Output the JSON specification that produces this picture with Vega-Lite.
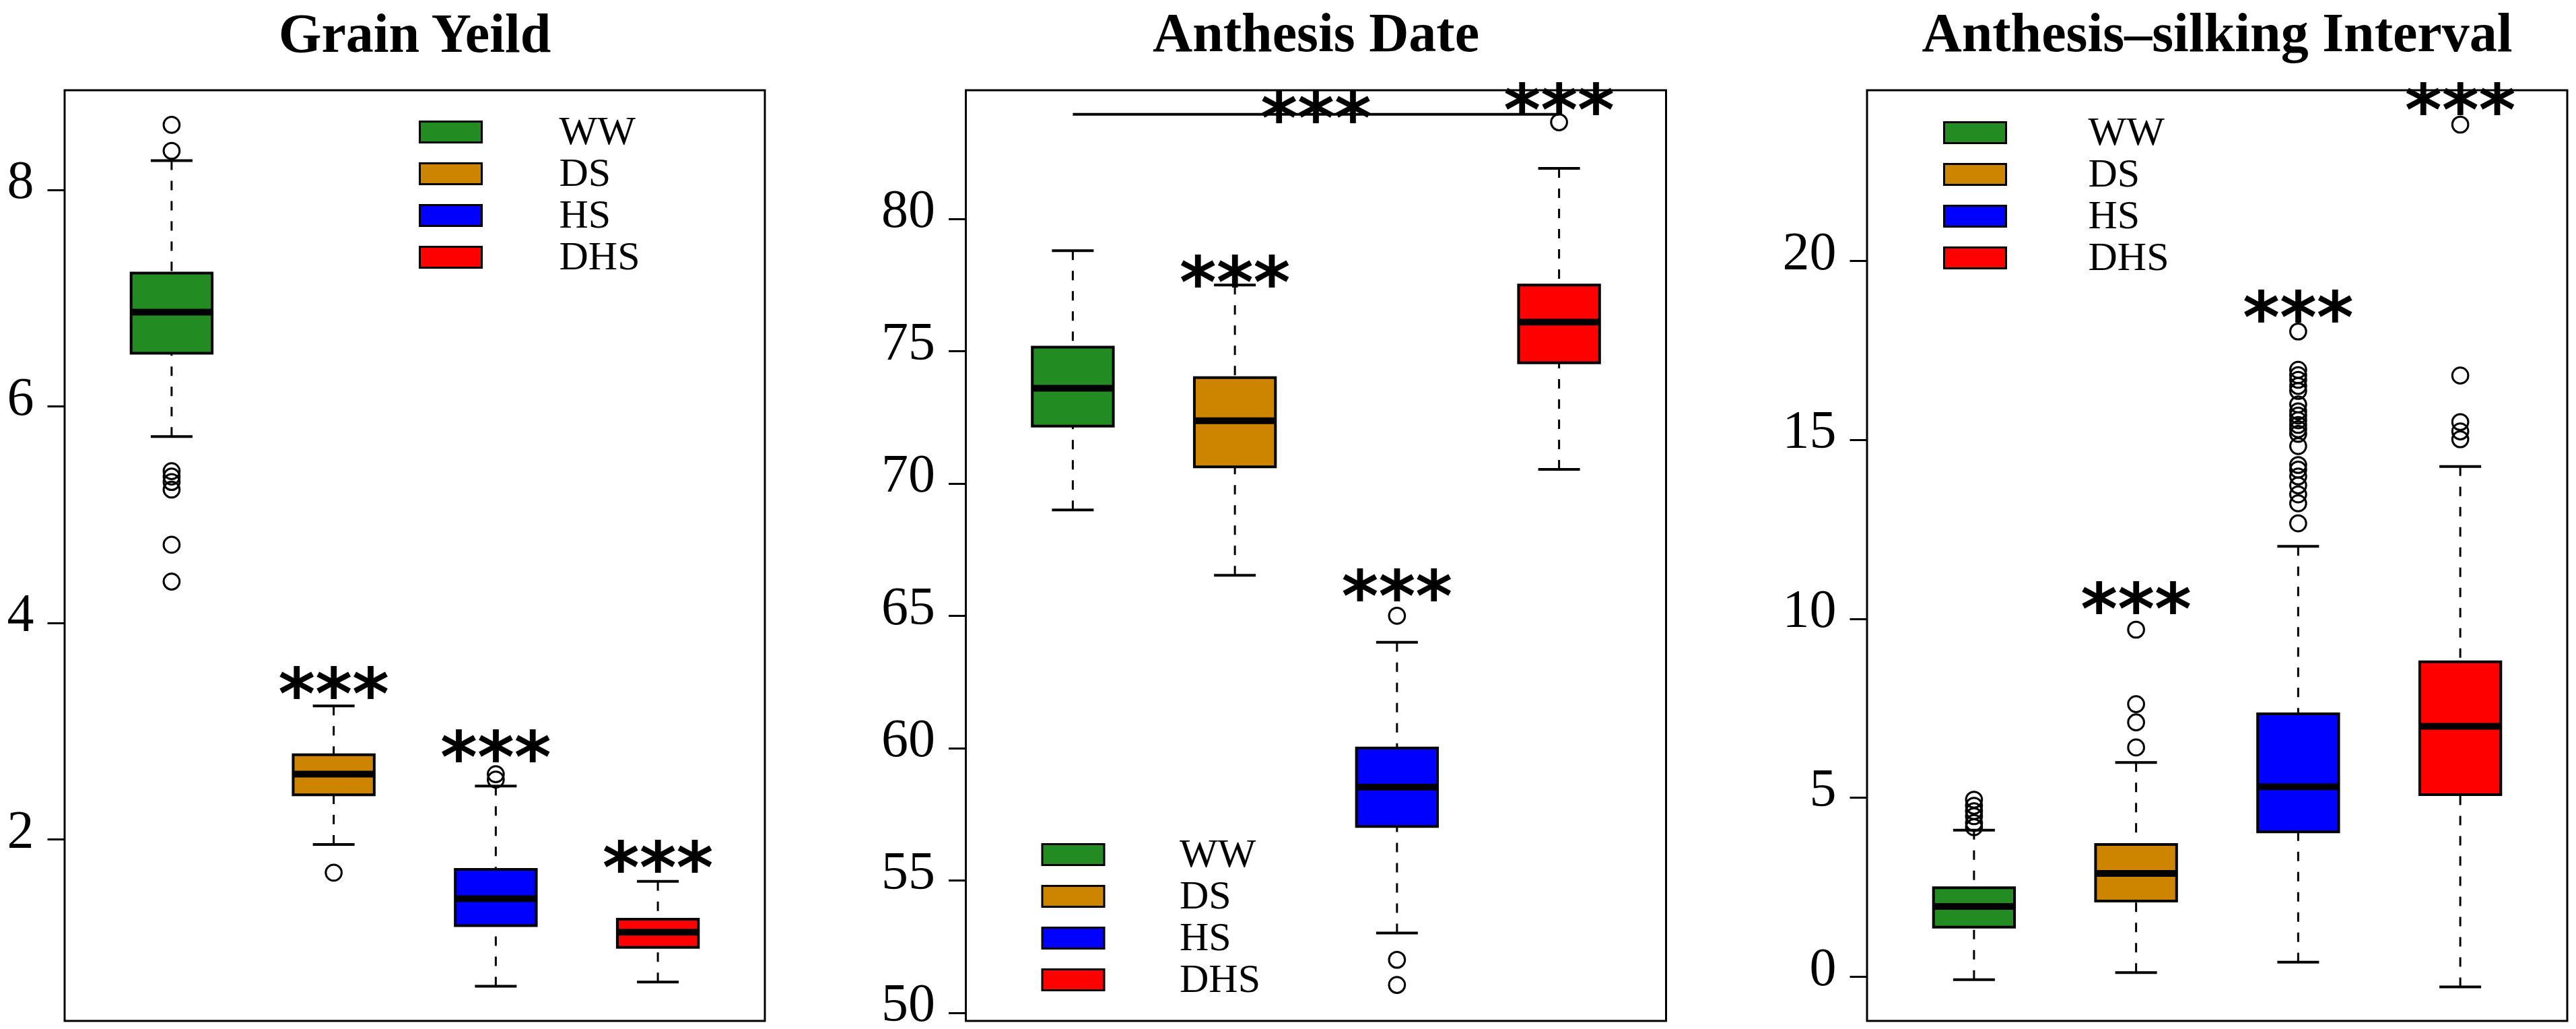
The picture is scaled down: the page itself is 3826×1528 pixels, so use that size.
{
  "$schema": "https://vega.github.io/schema/vega-lite/v6.json",
  "background": "white",
  "autosize": {"type": "pad"},
  "padding": {"left": 8, "top": 8, "right": 12, "bottom": 0},
  "datasets": {
    "boxes": [
      {"panel": "GY", "grp": "WW", "lo": 5.72, "q1": 6.49, "med": 6.87, "q3": 7.23, "hi": 8.27},
      {"panel": "GY", "grp": "DS", "lo": 1.95, "q1": 2.41, "med": 2.6, "q3": 2.78, "hi": 3.23},
      {"panel": "GY", "grp": "HS", "lo": 0.64, "q1": 1.2, "med": 1.45, "q3": 1.72, "hi": 2.49},
      {"panel": "GY", "grp": "DHS", "lo": 0.68, "q1": 1.0, "med": 1.14, "q3": 1.26, "hi": 1.61},
      {"panel": "AD", "grp": "WW", "lo": 69.0, "q1": 72.17, "med": 73.6, "q3": 75.15, "hi": 78.8},
      {"panel": "AD", "grp": "DS", "lo": 66.53, "q1": 70.63, "med": 72.37, "q3": 74.0, "hi": 77.5},
      {"panel": "AD", "grp": "HS", "lo": 53.01, "q1": 57.04, "med": 58.53, "q3": 60.0, "hi": 64.0},
      {"panel": "AD", "grp": "DHS", "lo": 70.53, "q1": 74.56, "med": 76.1, "q3": 77.5, "hi": 81.91},
      {"panel": "ASI", "grp": "WW", "lo": -0.09, "q1": 1.38, "med": 1.96, "q3": 2.48, "hi": 4.09},
      {"panel": "ASI", "grp": "DS", "lo": 0.11, "q1": 2.11, "med": 2.88, "q3": 3.69, "hi": 5.98},
      {"panel": "ASI", "grp": "HS", "lo": 0.4, "q1": 4.04, "med": 5.3, "q3": 7.34, "hi": 12.02},
      {"panel": "ASI", "grp": "DHS", "lo": -0.29, "q1": 5.08, "med": 6.99, "q3": 8.79, "hi": 14.25}
    ],
    "outliers": [
      {"panel": "GY", "grp": "WW", "v": 8.6}, {"panel": "GY", "grp": "WW", "v": 8.36},
      {"panel": "GY", "grp": "WW", "v": 5.4}, {"panel": "GY", "grp": "WW", "v": 5.35},
      {"panel": "GY", "grp": "WW", "v": 5.3}, {"panel": "GY", "grp": "WW", "v": 5.23},
      {"panel": "GY", "grp": "WW", "v": 4.72}, {"panel": "GY", "grp": "WW", "v": 4.38},
      {"panel": "GY", "grp": "DS", "v": 1.69},
      {"panel": "GY", "grp": "HS", "v": 2.6}, {"panel": "GY", "grp": "HS", "v": 2.55},
      {"panel": "AD", "grp": "HS", "v": 65.0}, {"panel": "AD", "grp": "HS", "v": 52.0},
      {"panel": "AD", "grp": "HS", "v": 51.05}, {"panel": "AD", "grp": "DHS", "v": 83.65},
      {"panel": "ASI", "grp": "WW", "v": 4.94}, {"panel": "ASI", "grp": "WW", "v": 4.77},
      {"panel": "ASI", "grp": "WW", "v": 4.62}, {"panel": "ASI", "grp": "WW", "v": 4.48},
      {"panel": "ASI", "grp": "WW", "v": 4.29}, {"panel": "ASI", "grp": "WW", "v": 4.17},
      {"panel": "ASI", "grp": "DS", "v": 9.69}, {"panel": "ASI", "grp": "DS", "v": 7.61},
      {"panel": "ASI", "grp": "DS", "v": 7.1}, {"panel": "ASI", "grp": "DS", "v": 6.4},
      {"panel": "ASI", "grp": "HS", "v": 18.02}, {"panel": "ASI", "grp": "HS", "v": 16.95},
      {"panel": "ASI", "grp": "HS", "v": 16.8}, {"panel": "ASI", "grp": "HS", "v": 16.67},
      {"panel": "ASI", "grp": "HS", "v": 16.5}, {"panel": "ASI", "grp": "HS", "v": 16.36},
      {"panel": "ASI", "grp": "HS", "v": 15.98}, {"panel": "ASI", "grp": "HS", "v": 15.79},
      {"panel": "ASI", "grp": "HS", "v": 15.67}, {"panel": "ASI", "grp": "HS", "v": 15.54},
      {"panel": "ASI", "grp": "HS", "v": 15.41}, {"panel": "ASI", "grp": "HS", "v": 15.29},
      {"panel": "ASI", "grp": "HS", "v": 15.16}, {"panel": "ASI", "grp": "HS", "v": 14.82},
      {"panel": "ASI", "grp": "HS", "v": 14.29}, {"panel": "ASI", "grp": "HS", "v": 14.16},
      {"panel": "ASI", "grp": "HS", "v": 13.97}, {"panel": "ASI", "grp": "HS", "v": 13.72},
      {"panel": "ASI", "grp": "HS", "v": 13.47}, {"panel": "ASI", "grp": "HS", "v": 13.22},
      {"panel": "ASI", "grp": "HS", "v": 12.66},
      {"panel": "ASI", "grp": "DHS", "v": 23.8}, {"panel": "ASI", "grp": "DHS", "v": 16.79},
      {"panel": "ASI", "grp": "DHS", "v": 15.49}, {"panel": "ASI", "grp": "DHS", "v": 15.23},
      {"panel": "ASI", "grp": "DHS", "v": 15.01}
    ],
    "stars": [
      {"panel": "GY", "grp": "DS", "v": 3.49},
      {"panel": "GY", "grp": "HS", "v": 2.9},
      {"panel": "GY", "grp": "DHS", "v": 1.88},
      {"panel": "AD", "grp": "DS", "v": 78.2},
      {"panel": "AD", "grp": "HS", "v": 66.33},
      {"panel": "AD", "grp": "DHS", "v": 84.72},
      {"panel": "ASI", "grp": "DS", "v": 10.7},
      {"panel": "ASI", "grp": "HS", "v": 18.85},
      {"panel": "ASI", "grp": "DHS", "v": 24.64}
    ],
    "bracket": [
      {"panel": "AD", "from": "WW", "to": "DHS", "mid": "DS", "line": 83.95, "star": 84.4}
    ]
  },
  "hconcat": [
    {
      "width": 1040, "height": 1382,
      "title": {"text": "Grain Yeild", "offset": 40},
      "layer": [
        {"data": {"name": "boxes"}, "transform": [{"filter": "datum.panel === 'GY'"}],
         "mark": {"type": "rule", "stroke": "black", "strokeWidth": 3, "strokeDash": [14, 16]},
         "encoding": {
           "x": {"field": "grp", "type": "nominal", "scale": {"type": "band", "domain": ["WW", "DS", "HS", "DHS"], "paddingInner": 0, "paddingOuter": 0.16}, "axis": null},
           "y": {"field": "hi", "type": "quantitative", "title": null, "scale": {"domain": [0.32, 8.92], "nice": false, "zero": false}, "axis": {"values": [2, 4, 6, 8], "format": "d"}},
           "y2": {"field": "q3"}}},
        {"data": {"name": "boxes"}, "transform": [{"filter": "datum.panel === 'GY'"}],
         "mark": {"type": "rule", "stroke": "black", "strokeWidth": 3, "strokeDash": [14, 16]},
         "encoding": {"x": {"field": "grp", "type": "nominal"}, "y": {"field": "lo", "type": "quantitative", "title": null}, "y2": {"field": "q1"}}},
        {"data": {"name": "boxes"}, "transform": [{"filter": "datum.panel === 'GY'"}],
         "mark": {"type": "tick", "color": "black", "size": 62, "thickness": 4, "opacity": 1},
         "encoding": {"x": {"field": "grp", "type": "nominal"}, "y": {"field": "hi", "type": "quantitative", "title": null}}},
        {"data": {"name": "boxes"}, "transform": [{"filter": "datum.panel === 'GY'"}],
         "mark": {"type": "tick", "color": "black", "size": 62, "thickness": 4, "opacity": 1},
         "encoding": {"x": {"field": "grp", "type": "nominal"}, "y": {"field": "lo", "type": "quantitative", "title": null}}},
        {"data": {"name": "boxes"}, "transform": [{"filter": "datum.panel === 'GY'"}],
         "mark": {"type": "bar", "width": {"band": 0.5}, "stroke": "black", "strokeWidth": 4, "opacity": 1},
         "encoding": {
           "x": {"field": "grp", "type": "nominal"},
           "y": {"field": "q1", "type": "quantitative", "title": null}, "y2": {"field": "q3"},
           "color": {"field": "grp", "type": "nominal",
             "scale": {"domain": ["WW", "DS", "HS", "DHS"], "range": ["#228B22", "#CD8500", "#0000FF", "#FF0000"]},
             "legend": {"orient": "none", "direction": "vertical", "legendX": 543.5, "legendY": 32, "title": null,
               "symbolType": "M-2.968,-1L2.968,-1L2.968,1L-2.968,1Z", "symbolSize": 961,
               "symbolStrokeColor": "black", "symbolStrokeWidth": 3, "symbolOpacity": 1,
               "labelFont": "Liberation Serif", "labelFontSize": 60, "labelColor": "black", "labelOffset": 131,
               "rowPadding": 2, "padding": 0}}}},
        {"data": {"name": "boxes"}, "transform": [{"filter": "datum.panel === 'GY'"}],
         "mark": {"type": "tick", "color": "black", "size": 117, "thickness": 10, "opacity": 1},
         "encoding": {"x": {"field": "grp", "type": "nominal"}, "y": {"field": "med", "type": "quantitative", "title": null}}},
        {"data": {"name": "outliers"}, "transform": [{"filter": "datum.panel === 'GY'"}],
         "mark": {"type": "point", "shape": "circle", "filled": false, "stroke": "black", "strokeWidth": 3, "size": 560, "opacity": 1},
         "encoding": {"x": {"field": "grp", "type": "nominal"}, "y": {"field": "v", "type": "quantitative", "title": null}}},
        {"data": {"name": "stars"}, "transform": [{"filter": "datum.panel === 'GY'"}],
         "mark": {"type": "text", "font": "DejaVu Sans", "fontWeight": "bold", "fontSize": 105, "baseline": "alphabetic", "align": "center", "dy": 60, "color": "black"},
         "encoding": {"x": {"field": "grp", "type": "nominal"}, "y": {"field": "v", "type": "quantitative", "title": null}, "text": {"value": "***"}}}
      ]
    },
    {
      "width": 1040, "height": 1382,
      "title": {"text": "Anthesis Date", "offset": 22.5},
      "layer": [
        {"data": {"name": "boxes"}, "transform": [{"filter": "datum.panel === 'AD'"}],
         "mark": {"type": "rule", "stroke": "black", "strokeWidth": 3, "strokeDash": [14, 16]},
         "encoding": {
           "x": {"field": "grp", "type": "nominal", "scale": {"type": "band", "domain": ["WW", "DS", "HS", "DHS"], "paddingInner": 0, "paddingOuter": 0.16}, "axis": null},
           "y": {"field": "hi", "type": "quantitative", "title": null, "scale": {"domain": [49.69, 84.86], "nice": false, "zero": false}, "axis": {"values": [50, 55, 60, 65, 70, 75, 80], "format": "d"}},
           "y2": {"field": "q3"}}},
        {"data": {"name": "boxes"}, "transform": [{"filter": "datum.panel === 'AD'"}],
         "mark": {"type": "rule", "stroke": "black", "strokeWidth": 3, "strokeDash": [14, 16]},
         "encoding": {"x": {"field": "grp", "type": "nominal"}, "y": {"field": "lo", "type": "quantitative", "title": null}, "y2": {"field": "q1"}}},
        {"data": {"name": "boxes"}, "transform": [{"filter": "datum.panel === 'AD'"}],
         "mark": {"type": "tick", "color": "black", "size": 62, "thickness": 4, "opacity": 1},
         "encoding": {"x": {"field": "grp", "type": "nominal"}, "y": {"field": "hi", "type": "quantitative", "title": null}}},
        {"data": {"name": "boxes"}, "transform": [{"filter": "datum.panel === 'AD'"}],
         "mark": {"type": "tick", "color": "black", "size": 62, "thickness": 4, "opacity": 1},
         "encoding": {"x": {"field": "grp", "type": "nominal"}, "y": {"field": "lo", "type": "quantitative", "title": null}}},
        {"data": {"name": "boxes"}, "transform": [{"filter": "datum.panel === 'AD'"}],
         "mark": {"type": "bar", "width": {"band": 0.5}, "stroke": "black", "strokeWidth": 4, "opacity": 1},
         "encoding": {
           "x": {"field": "grp", "type": "nominal"},
           "y": {"field": "q1", "type": "quantitative", "title": null}, "y2": {"field": "q3"},
           "color": {"field": "grp", "type": "nominal",
             "scale": {"domain": ["WW", "DS", "HS", "DHS"], "range": ["#228B22", "#CD8500", "#0000FF", "#FF0000"]},
             "legend": {"orient": "none", "direction": "vertical", "legendX": 129.5, "legendY": 1105, "title": null,
               "symbolType": "M-2.968,-1L2.968,-1L2.968,1L-2.968,1Z", "symbolSize": 961,
               "symbolStrokeColor": "black", "symbolStrokeWidth": 3, "symbolOpacity": 1,
               "labelFont": "Liberation Serif", "labelFontSize": 60, "labelColor": "black", "labelOffset": 128,
               "rowPadding": 2, "padding": 0}}}},
        {"data": {"name": "boxes"}, "transform": [{"filter": "datum.panel === 'AD'"}],
         "mark": {"type": "tick", "color": "black", "size": 117, "thickness": 10, "opacity": 1},
         "encoding": {"x": {"field": "grp", "type": "nominal"}, "y": {"field": "med", "type": "quantitative", "title": null}}},
        {"data": {"name": "outliers"}, "transform": [{"filter": "datum.panel === 'AD'"}],
         "mark": {"type": "point", "shape": "circle", "filled": false, "stroke": "black", "strokeWidth": 3, "size": 560, "opacity": 1},
         "encoding": {"x": {"field": "grp", "type": "nominal"}, "y": {"field": "v", "type": "quantitative", "title": null}}},
        {"data": {"name": "bracket"},
         "mark": {"type": "rule", "stroke": "black", "strokeWidth": 4},
         "encoding": {"x": {"field": "from", "type": "nominal"}, "x2": {"field": "to"}, "y": {"field": "line", "type": "quantitative", "title": null}}},
        {"data": {"name": "bracket"},
         "mark": {"type": "text", "font": "DejaVu Sans", "fontWeight": "bold", "fontSize": 105, "baseline": "alphabetic", "align": "center", "dy": 60, "color": "black"},
         "encoding": {"x": {"field": "mid", "type": "nominal", "bandPosition": 1}, "y": {"field": "star", "type": "quantitative", "title": null}, "text": {"value": "***"}}},
        {"data": {"name": "stars"}, "transform": [{"filter": "datum.panel === 'AD'"}],
         "mark": {"type": "text", "font": "DejaVu Sans", "fontWeight": "bold", "fontSize": 105, "baseline": "alphabetic", "align": "center", "dy": 60, "color": "black"},
         "encoding": {"x": {"field": "grp", "type": "nominal"}, "y": {"field": "v", "type": "quantitative", "title": null}, "text": {"value": "***"}}}
      ]
    },
    {
      "width": 1040, "height": 1382,
      "title": {"text": "Anthesis–silking Interval", "offset": 23.5},
      "layer": [
        {"data": {"name": "boxes"}, "transform": [{"filter": "datum.panel === 'ASI'"}],
         "mark": {"type": "rule", "stroke": "black", "strokeWidth": 3, "strokeDash": [14, 16]},
         "encoding": {
           "x": {"field": "grp", "type": "nominal", "scale": {"type": "band", "domain": ["WW", "DS", "HS", "DHS"], "paddingInner": 0, "paddingOuter": 0.16}, "axis": null},
           "y": {"field": "hi", "type": "quantitative", "title": null, "scale": {"domain": [-1.24, 24.76], "nice": false, "zero": false}, "axis": {"values": [0, 5, 10, 15, 20], "format": "d"}},
           "y2": {"field": "q3"}}},
        {"data": {"name": "boxes"}, "transform": [{"filter": "datum.panel === 'ASI'"}],
         "mark": {"type": "rule", "stroke": "black", "strokeWidth": 3, "strokeDash": [14, 16]},
         "encoding": {"x": {"field": "grp", "type": "nominal"}, "y": {"field": "lo", "type": "quantitative", "title": null}, "y2": {"field": "q1"}}},
        {"data": {"name": "boxes"}, "transform": [{"filter": "datum.panel === 'ASI'"}],
         "mark": {"type": "tick", "color": "black", "size": 62, "thickness": 4, "opacity": 1},
         "encoding": {"x": {"field": "grp", "type": "nominal"}, "y": {"field": "hi", "type": "quantitative", "title": null}}},
        {"data": {"name": "boxes"}, "transform": [{"filter": "datum.panel === 'ASI'"}],
         "mark": {"type": "tick", "color": "black", "size": 62, "thickness": 4, "opacity": 1},
         "encoding": {"x": {"field": "grp", "type": "nominal"}, "y": {"field": "lo", "type": "quantitative", "title": null}}},
        {"data": {"name": "boxes"}, "transform": [{"filter": "datum.panel === 'ASI'"}],
         "mark": {"type": "bar", "width": {"band": 0.5}, "stroke": "black", "strokeWidth": 4, "opacity": 1},
         "encoding": {
           "x": {"field": "grp", "type": "nominal"},
           "y": {"field": "q1", "type": "quantitative", "title": null}, "y2": {"field": "q3"},
           "color": {"field": "grp", "type": "nominal",
             "scale": {"domain": ["WW", "DS", "HS", "DHS"], "range": ["#228B22", "#CD8500", "#0000FF", "#FF0000"]},
             "legend": {"orient": "none", "direction": "vertical", "legendX": 130.5, "legendY": 33, "title": null,
               "symbolType": "M-2.968,-1L2.968,-1L2.968,1L-2.968,1Z", "symbolSize": 961,
               "symbolStrokeColor": "black", "symbolStrokeWidth": 3, "symbolOpacity": 1,
               "labelFont": "Liberation Serif", "labelFontSize": 60, "labelColor": "black", "labelOffset": 138,
               "rowPadding": 2, "padding": 0}}}},
        {"data": {"name": "boxes"}, "transform": [{"filter": "datum.panel === 'ASI'"}],
         "mark": {"type": "tick", "color": "black", "size": 117, "thickness": 10, "opacity": 1},
         "encoding": {"x": {"field": "grp", "type": "nominal"}, "y": {"field": "med", "type": "quantitative", "title": null}}},
        {"data": {"name": "outliers"}, "transform": [{"filter": "datum.panel === 'ASI'"}],
         "mark": {"type": "point", "shape": "circle", "filled": false, "stroke": "black", "strokeWidth": 3, "size": 560, "opacity": 1},
         "encoding": {"x": {"field": "grp", "type": "nominal"}, "y": {"field": "v", "type": "quantitative", "title": null}}},
        {"data": {"name": "stars"}, "transform": [{"filter": "datum.panel === 'ASI'"}],
         "mark": {"type": "text", "font": "DejaVu Sans", "fontWeight": "bold", "fontSize": 105, "baseline": "alphabetic", "align": "center", "dy": 60, "color": "black"},
         "encoding": {"x": {"field": "grp", "type": "nominal"}, "y": {"field": "v", "type": "quantitative", "title": null}, "text": {"value": "***"}}}
      ]
    }
  ],
  "spacing": 298.5,
  "bounds": "flush",
  "resolve": {
    "scale": {"x": "independent", "y": "independent", "color": "independent"},
    "legend": {"color": "independent"}
  },
  "config": {
    "view": {"stroke": "black", "strokeWidth": 3},
    "axisY": {
      "domain": false, "grid": false, "ticks": true, "tickSize": 26, "tickWidth": 3, "tickColor": "black",
      "labelFont": "Liberation Serif", "labelFontSize": 80, "labelColor": "black", "labelPadding": 20,
      "labelBaseline": "alphabetic", "labelOffset": 12, "labelAngle": 0
    },
    "title": {"font": "Liberation Serif", "fontSize": 82, "fontWeight": "bold", "color": "black", "anchor": "middle", "frame": "group", "baseline": "alphabetic"}
  }
}
